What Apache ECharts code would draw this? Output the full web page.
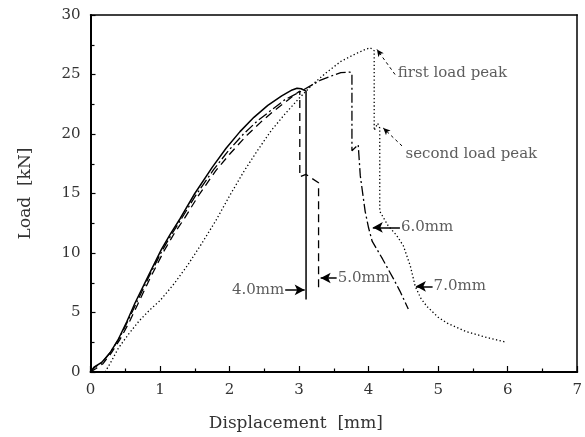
<!DOCTYPE html>
<html>
<head>
<meta charset="utf-8">
<script src="https://cdn.jsdelivr.net/npm/echarts@6/dist/echarts.min.js"></script>
<style>
  html, body { margin: 0; padding: 0; background: #fff; }
  #chart { width: 585px; height: 437px; }
</style>
</head>
<body>
<div id="chart"></div>
<script>
// Load–displacement curves for four specimen sizes: [displacement mm, load kN]
const curve40 = [[0,0],[0.05,0.4],[0.16,0.8],[0.28,1.6],[0.40,2.75],[0.52,4.2],[0.64,5.8],[0.83,8.05],[1.02,10.3],[1.15,11.6],[1.29,12.9],[1.5,15.0],[1.75,17.2],[1.95,18.8],[2.15,20.2],[2.35,21.4],[2.55,22.4],[2.75,23.2],[2.9,23.7],[2.97,23.85],[3.03,23.8],[3.1,23.6],[3.1,6.1]];
const curve50 = [[0,0],[0.08,0.3],[0.18,0.7],[0.3,1.6],[0.42,2.7],[0.55,4.1],[0.68,5.7],[0.85,7.8],[1.05,10.1],[1.2,11.6],[1.35,12.9],[1.55,14.8],[1.8,16.9],[2.0,18.3],[2.25,19.9],[2.45,21.0],[2.65,22.0],[2.85,22.9],[2.96,23.4],[3.01,23.6],[3.01,16.4],[3.1,16.6],[3.28,15.9],[3.28,7.1]];
const curve60 = [[0,0],[0.06,0.4],[0.17,0.8],[0.29,1.7],[0.41,2.8],[0.53,4.2],[0.66,5.8],[0.84,8.0],[1.03,10.2],[1.17,11.6],[1.31,12.9],[1.52,14.9],[1.77,17.0],[1.97,18.5],[2.2,20.0],[2.4,21.1],[2.6,22.0],[2.8,22.9],[3.0,23.5],[3.15,24.0],[3.3,24.5],[3.45,24.85],[3.6,25.15],[3.73,25.2],[3.76,25.1],[3.76,18.6],[3.85,19.1],[3.88,16.5],[3.95,13.5],[4.0,12.1],[4.05,11.0],[4.2,9.5],[4.36,7.8],[4.45,6.8],[4.57,5.3]];
const curve70 = [[0.21,0],[0.3,0.9],[0.4,2.0],[0.55,3.2],[0.7,4.3],[0.85,5.2],[1.0,6.0],[1.2,7.4],[1.4,9.0],[1.6,10.8],[1.8,12.7],[2.0,14.8],[2.2,16.8],[2.4,18.6],[2.6,20.3],[2.8,21.7],[3.0,23.0],[3.2,24.2],[3.4,25.2],[3.6,26.1],[3.8,26.7],[3.95,27.1],[4.02,27.25],[4.08,27.0],[4.08,20.3],[4.13,20.9],[4.16,20.5],[4.16,13.5],[4.28,12.3],[4.4,11.5],[4.5,10.6],[4.6,8.9],[4.67,7.2],[4.75,6.2],[4.84,5.5],[5.0,4.6],[5.13,4.1],[5.4,3.4],[5.7,2.9],[5.98,2.5]];

// Callout texts and where each sits / points
const calloutNames = ['4.0mm', '5.0mm', '6.0mm', '7.0mm'];
const calloutTail  = [[2.80, 6.9], [3.54, 7.9], [4.45, 12.15], [4.92, 7.2]];
const calloutTip   = [[3.08, 6.9], [3.31, 7.9], [4.06, 12.15], [4.68, 7.2]];
const peakNames = ['first load peak', 'second load peak'];
const peakTextAt = [[4.42, 25.15], [4.53, 18.35]];
const peakTail   = [[4.38, 25.0], [4.48, 19.0]];
const peakTip    = [[4.12, 27.1], [4.21, 20.5]];

const xTicks = { min: 0, max: 7, step: 1 };
const yTicks = { min: 0, max: 30, step: 5 };

const FONT = 'DejaVu Serif';
const INK = '#000';
const TEXT = '#333';

function curveSeries(name, data, type, width) {
  return {
    name: name, type: 'line', data: data, showSymbol: false, symbol: 'none',
    silent: true, animation: false,
    lineStyle: { color: INK, width: width, type: type, cap: 'butt' }
  };
}

const arrowLines = calloutNames.map((n, i) => [{ coord: calloutTail[i] }, { coord: calloutTip[i] }]);
const peakLines = peakNames.map((n, i) => [{ coord: peakTail[i] }, { coord: peakTip[i] }]);

const chart = echarts.init(document.getElementById('chart'), null, { renderer: 'canvas' });
chart.setOption({
  animation: false,
  backgroundColor: '#fff',
  grid: { left: 90.5, right: 7.5, top: 15, bottom: 64.5 },
  xAxis: [{
    type: 'value', min: xTicks.min, max: xTicks.max, interval: xTicks.step,
    name: 'Displacement  [mm]', nameLocation: 'middle', nameGap: 43,
    nameTextStyle: { fontFamily: FONT, fontSize: 17, color: TEXT, padding: [0, 76, 0, 0] },
    axisLine: { lineStyle: { color: INK, width: 2 } },
    axisTick: { inside: true, length: 6, lineStyle: { color: INK, width: 1.2 } },
    minorTick: { show: true, splitNumber: 2, length: 3.5, lineStyle: { color: INK, width: 1.2 } },
    axisLabel: { fontFamily: FONT, fontSize: 15, color: TEXT, margin: 11 },
    splitLine: { show: false }
  }, {
    type: 'value', position: 'top', min: xTicks.min, max: xTicks.max, interval: xTicks.step,
    axisLine: { show: true, onZero: false, lineStyle: { color: INK, width: 1.5 } },
    axisTick: { show: false }, axisLabel: { show: false }, splitLine: { show: false }
  }],
  yAxis: [{
    type: 'value', min: yTicks.min, max: yTicks.max, interval: yTicks.step,
    name: 'Load  [kN]', nameLocation: 'middle', nameGap: 56,
    nameTextStyle: { fontFamily: FONT, fontSize: 17, color: TEXT },
    axisLine: { show: true, lineStyle: { color: INK, width: 2 } },
    axisTick: { show: true, inside: true, length: 5, lineStyle: { color: INK, width: 1.2 } },
    minorTick: { show: true, splitNumber: 2, length: 4, lineStyle: { color: INK, width: 1.2 } },
    axisLabel: { fontFamily: FONT, fontSize: 15, color: TEXT, margin: 10 },
    splitLine: { show: false }
  }, {
    type: 'value', position: 'right', min: yTicks.min, max: yTicks.max, interval: yTicks.step,
    axisLine: { show: true, onZero: false, lineStyle: { color: INK, width: 1.5 } },
    axisTick: { show: false }, axisLabel: { show: false }, splitLine: { show: false }
  }],
  series: [
    curveSeries('4.0mm', curve40, 'solid', 1.5),
    curveSeries('5.0mm', curve50, [8, 5], 1.3),
    curveSeries('6.0mm', curve60, [10, 3, 2, 3], 1.3),
    curveSeries('7.0mm', curve70, [1.3, 2.4], 1.3),
    {
      // solid arrows naming each curve
      type: 'line', data: [], silent: true,
      markLine: {
        silent: true, animation: false,
        symbol: ['none', 'arrow'], symbolSize: [8, 10],
        label: { show: false },
        lineStyle: { color: INK, width: 1.5, type: 'solid' },
        data: arrowLines
      }
    },
    {
      // dashed arrows pointing to the load peaks
      type: 'line', data: [], silent: true,
      markLine: {
        silent: true, animation: false,
        symbol: ['none', 'arrow'], symbolSize: [5, 7],
        label: { show: false },
        lineStyle: { color: INK, width: 1, type: [3, 3] },
        data: peakLines
      }
    },
    {
      // curve names
      type: 'scatter', symbolSize: 0, silent: true,
      data: calloutNames.map((n, i) => ({
        name: n, value: calloutTail[i],
        label: { position: i === 0 ? 'left' : 'right' }
      })),
      label: {
        show: true, distance: 1, formatter: '{b}',
        fontFamily: FONT, fontSize: 15, color: TEXT
      }
    },
    {
      // peak descriptions
      type: 'scatter', symbolSize: 0, silent: true,
      data: peakNames.map((n, i) => ({ name: n, value: peakTextAt[i] })),
      label: {
        show: true, position: 'right', distance: 0, formatter: '{b}',
        fontFamily: FONT, fontSize: 15, color: TEXT
      }
    }
  ]
});
</script>
</body>
</html>
